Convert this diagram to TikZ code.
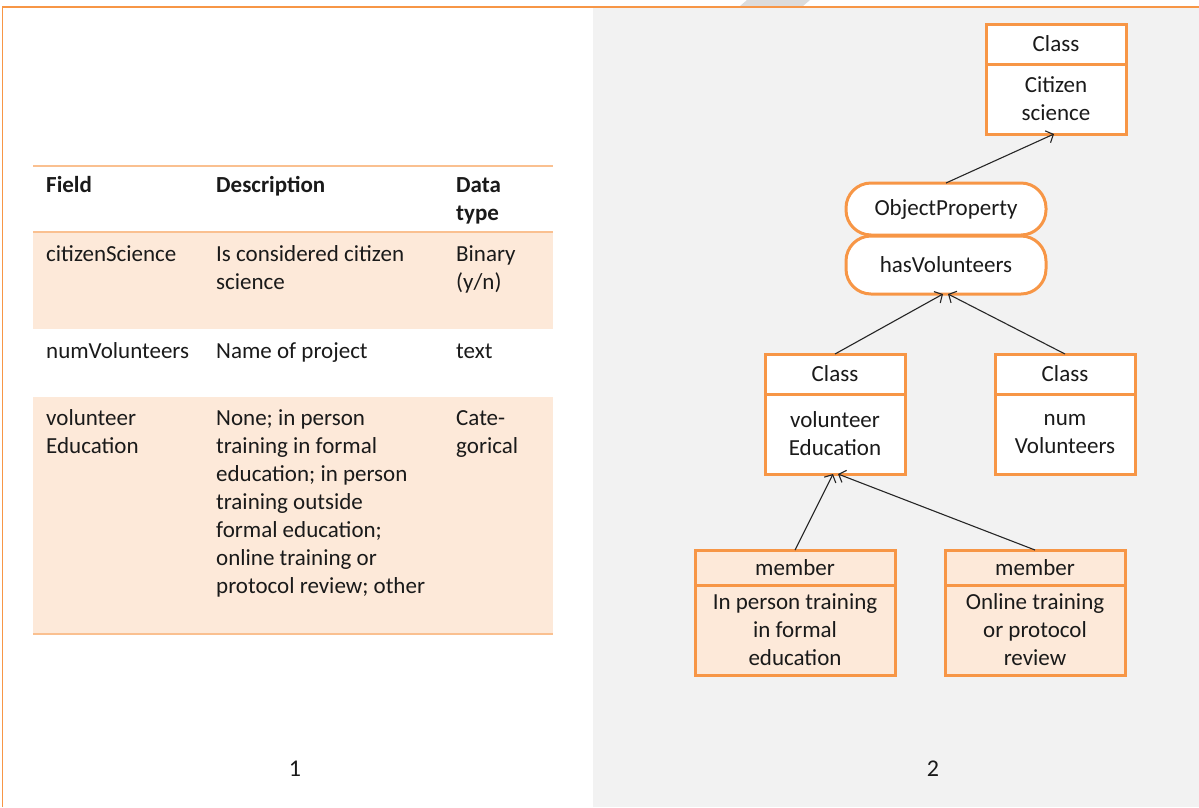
\documentclass[tikz,border=0pt]{standalone}
\usepackage{fontspec}
\setmainfont{Carlito}
\usetikzlibrary{arrows.meta,calc}
\definecolor{accent}{HTML}{F79646}
\definecolor{lineor}{HTML}{FAC090}
\definecolor{rowfill}{HTML}{FDE9D9}
\definecolor{panel}{HTML}{F2F2F2}
\definecolor{txt}{HTML}{1A1A1A}
\definecolor{artif}{HTML}{DCDCDC}
\begin{document}
\begin{tikzpicture}[x=1pt,y=-1pt,
  every node/.style={text=txt,font=\fontsize{23}{28}\selectfont},
  cell/.style={anchor=north west,inner sep=0pt,align=left},
  clsbox/.style={draw=accent,line width=3pt,fill=white,inner sep=0pt,outer sep=0pt,align=center},
  membox/.style={draw=accent,line width=3pt,fill=rowfill,inner sep=0pt,outer sep=0pt,align=center},
  propbox/.style={draw=accent,line width=3pt,fill=white,rounded corners=25pt,minimum width=200pt,inner sep=0pt,outer sep=0pt},
  arr/.style={-{Straight Barb[length=6pt,width=13pt]},line width=1.1pt,draw=black!85},
  tline/.style={draw=lineor}]
\useasboundingbox (0,0) rectangle (1199,807);
% panels and frame
\fill[panel] (593,8) rectangle (1199,807);
\fill[artif] (747,0) -- (810,0) -- (803,6) -- (740,6) -- cycle;
\draw[accent,line width=2pt] (2,7) -- (1199,7);
\draw[accent,line width=1.5pt] (2.5,6) -- (2.5,807);
% table rows
\fill[rowfill] (33,233) rectangle (553,329);
\fill[rowfill] (33,397) rectangle (553,633);
\draw[tline,line width=1.5pt] (33,166) -- (553,166);
\draw[tline,line width=2.5pt] (33,232) -- (553,232);
\draw[tline,line width=2.5pt] (33,634) -- (553,634);
% header
\node[cell] (hf) at (46,173) {\strut\bfseries Field};
\node[cell] (hd) at (216,173) {\strut\bfseries Description};
\node[cell] (ht) at (456,173) {\strut\bfseries Data\\\strut\bfseries type};
% row 1
\node[cell] (r1a) at (46,242) {\strut citizenScience};
\node[cell] (r1b) at (216,242) {\strut Is considered citizen\\science};
\node[cell] (r1c) at (456,242) {\strut Binary\\(y/n)};
% row 2
\node[cell] (r2a) at (46,339) {\strut numVolunteers};
\node[cell] (r2b) at (216,339) {\strut Name of project};
\node[cell] (r2c) at (456,339) {\strut text};
% row 3
\node[cell] (r3a) at (46,406) {\strut volunteer\\Education};
\node[cell] (r3b) at (216,406) {\strut None; in person\\training in formal\\education; in person\\training outside\\formal education;\\online training or\\protocol review; other};
\node[cell] (r3c) at (456,406) {\strut Cate-\\gorical};
% panel numbers
\node (n1) at (295,769) {\fontsize{24}{28}\selectfont 1};
\node (n2) at (933,769) {\fontsize{24}{28}\selectfont 2};
% Class Citizen science
\node[clsbox,minimum width=140pt,minimum height=40pt] (csh) at (1056,44) {Class};
\node[clsbox,minimum width=140pt,minimum height=70pt,anchor=north] (csb) at (csh.south) {Citizen\\science};
% properties
\node[propbox,minimum height=52pt] (op) at (946,209) {ObjectProperty};
\node[propbox,minimum height=58pt] (hv) at (946,265) {hasVolunteers};
% Class volunteer Education
\node[clsbox,minimum width=140pt,minimum height=40pt] (veh) at (835,374) {Class};
\node[clsbox,minimum width=140pt,minimum height=80pt,anchor=north] (veb) at (veh.south) {volunteer\\Education};
% Class num Volunteers
\node[clsbox,minimum width=140pt,minimum height=40pt] (nvh) at (1065,374) {Class};
\node[clsbox,minimum width=140pt,minimum height=80pt,anchor=north] (nvb) at (nvh.south) {num\\Volunteers};
% members
\node[membox,minimum width=200pt,minimum height=35pt] (m1h) at (795,567.5) {member};
\node[membox,minimum width=200pt,minimum height=90pt,anchor=north] (m1b) at (m1h.south) {In person training\\in formal\\education};
\node[membox,minimum width=180pt,minimum height=35pt] (m2h) at (1035,567.5) {member};
\node[membox,minimum width=180pt,minimum height=90pt,anchor=north] (m2b) at (m2h.south) {Online training\\or protocol\\review};
% connectors
\draw[arr] (op.north) -- ([xshift=-2pt]csb.south);
\draw[arr] (veh.north) -- ([xshift=-3pt]hv.south);
\draw[arr] (nvh.north) -- ([xshift=2pt]hv.south);
\draw[arr] (m1h.north) -- ([xshift=-2pt]veb.south);
\draw[arr] (m2h.north) -- ([xshift=3pt]veb.south);
\end{tikzpicture}
\end{document}
